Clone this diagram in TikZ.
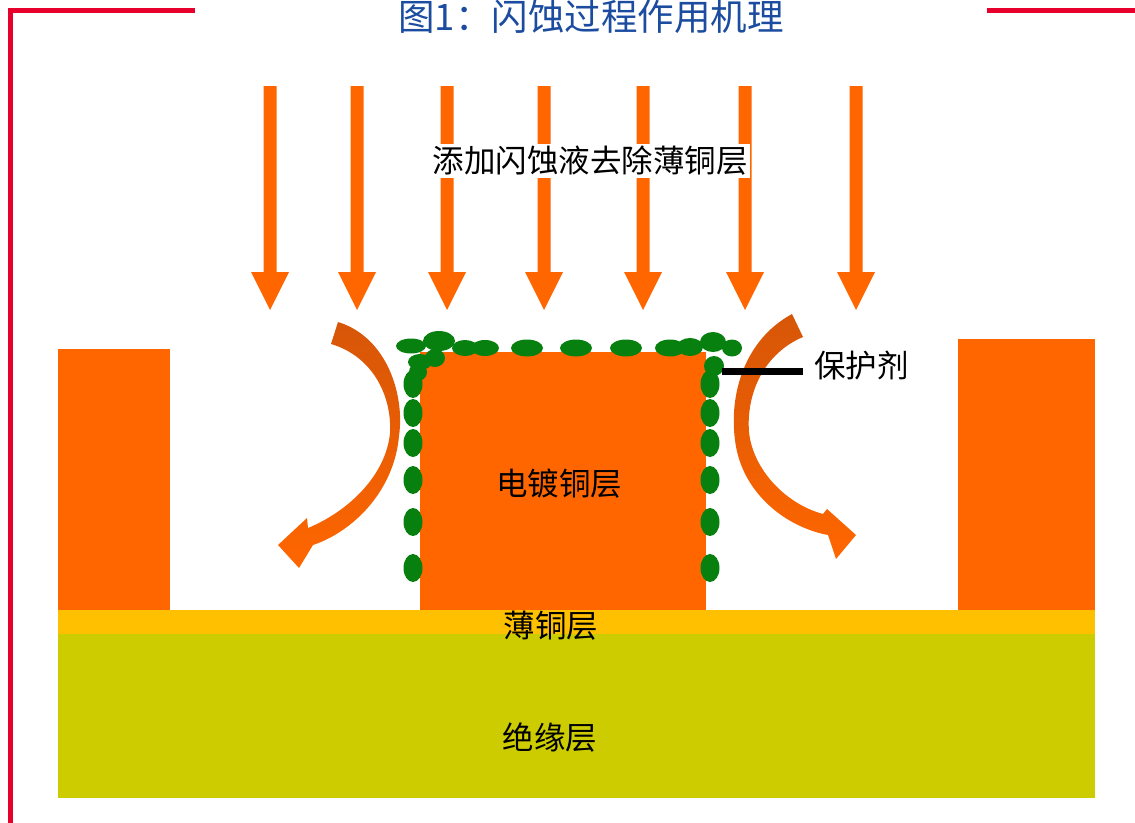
\documentclass[tikz,border=0pt]{standalone}
\usepackage{fontspec}
\newfontfamily\cjk{Noto Sans CJK SC}
\definecolor{copper}{RGB}{255,102,0}
\definecolor{copperdark}{RGB}{214,86,8}
\definecolor{seed}{RGB}{255,192,0}
\definecolor{insul}{RGB}{204,204,0}
\definecolor{agent}{RGB}{8,128,16}
\definecolor{framered}{RGB}{232,0,45}
\definecolor{titleblue}{RGB}{28,76,160}
\begin{document}
\begin{tikzpicture}[x=1pt,y=-1pt,
  frameline/.style={draw=framered,line width=4.5pt},
  blob/.style={fill=agent},
  flowarrow/.style={fill=copper},
  bendarrow/.style={top color=copperdark,bottom color=copper,draw=none},
  label/.style={font=\cjk\fontsize{31.5pt}{36pt}\selectfont,text=black,inner sep=0pt},
  titletext/.style={font=\cjk\fontsize{36.5pt}{42pt}\selectfont,text=titleblue,inner sep=0pt}]
\useasboundingbox (0,0) rectangle (1135,822);

% frame corners
\draw[frameline] (195,10.5) -- (10.5,10.5) -- (10.5,830);
\draw[frameline] (987,10.5) -- (1140,10.5);
\node[titletext] (title) at (591,17) {图1：闪蚀过程作用机理};

% substrate, seed copper and plated copper
\fill[insul] (58,633) rectangle (1095,798);
\fill[seed] (58,610) rectangle (1095,634);
\fill[copper] (58,349) rectangle (170,610);
\fill[copper] (958,339) rectangle (1095,610);
\fill[copper] (420,352) rectangle (706,610);

% etchant flow from above
\foreach \x in {270,357,447,544,643,745,856}
  \fill[flowarrow] (\x-6.5,86) -- (\x+6.5,86) -- (\x+6.5,272) -- (\x+19,272)
    -- (\x,310) -- (\x-19,272) -- (\x-6.5,272) -- cycle;

% etchant deflected around the plated copper
\shade[bendarrow] (338,322) .. controls (387,337) and (405,395) .. (399,436)
  .. controls (394,492) and (352,532) .. (313,545) -- (299,568) -- (278,545)
  -- (307,518) -- (308,528) .. controls (349,511) and (386,475) .. (390,433)
  .. controls (392,395) and (372,356) .. (331,344) -- cycle;
\shade[bendarrow] (792,314) .. controls (744,340) and (729,395) .. (735,440)
  .. controls (741,492) and (785,527) .. (828,535) -- (836,559) -- (856,535)
  -- (827,509) -- (823,514) .. controls (786,504) and (753,470) .. (749,432)
  .. controls (746,392) and (765,353) .. (803,337) -- cycle;

% protective agent on the plated copper
\foreach \x/\y/\rx/\ry in {411/346/15/7.5, 439/341/16/10, 465/348/13/8, 485/348/14/8,
    420/362/12/8, 435/358/10/9, 418/372/9/9,
    527/348/16/8.5, 576/348/16/8.5, 626/348/16/8.5, 670/348/15/8.5, 690/347/13/9,
    713/342/13/10, 732/348/10/8.5, 714/366/10/10}
  \fill[blob] (\x,\y) ellipse [x radius=\rx pt, y radius=\ry pt];
\foreach \y in {384,413,443,480,522,568} {
  \fill[blob] (413,\y) ellipse [x radius=9.5pt, y radius=14pt];
  \fill[blob] (710,\y) ellipse [x radius=9.5pt, y radius=14pt];
}

% labels
\node[label,fill=white,inner sep=2pt] (etch) at (590,161) {添加闪蚀液去除薄铜层};
\node[label] (plated) at (559,484) {电镀铜层};
\node[label] (seedlbl) at (551,626) {薄铜层};
\node[label] (insullbl) at (550,737) {绝缘层};
\node[label,anchor=west] (agentlbl) at (814,366) {保护剂};
\coordinate (agentpt) at (722,371.5);
\draw[line width=7pt] (agentpt) -- (agentpt -| agentlbl.west) [shorten >=11pt];
\end{tikzpicture}
\end{document}
